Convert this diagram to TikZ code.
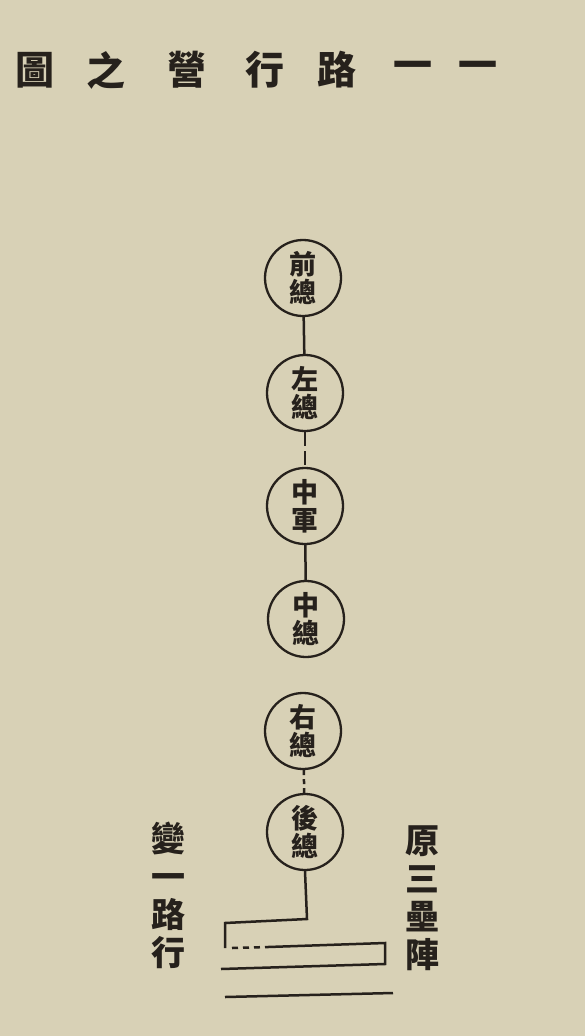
\documentclass[tikz,border=0pt]{standalone}
\usepackage{fontspec}
\newfontfamily\cjk{Noto Sans CJK TC}
\definecolor{paper}{RGB}{216,209,182}
\definecolor{ink}{RGB}{38,33,28}
\begin{document}
\begin{tikzpicture}[x=1pt,y=-1pt,
  zong/.style={draw=ink,line width=2.3pt,circle,minimum size=76pt,inner sep=0pt,
    align=center,text=ink,font=\cjk\bfseries\fontsize{27}{28}\selectfont},
  side/.style={align=center,text=ink,font=\cjk\bfseries\fontsize{34}{38}\selectfont},
  ti/.style={text=ink,font=\cjk\bfseries\fontsize{39}{39}\selectfont},
  ln/.style={draw=ink,line width=2.5pt}]
\fill[paper] (0,0) rectangle (585,1036);
% title, printed right to left
\foreach \c/\x [count=\i] in {圖/35,之/106,營/187,行/265,路/337,一/413,一/478}
  \node[ti] (t\i) at (\x,70) {\c};
% the column of corps
\node[zong] (qian) at (303,278) {前\\總};
\node[zong] (zuo) at (305,393) {左\\總};
\node[zong] (zhongjun) at (305,506) {中\\軍};
\node[zong] (zhongzong) at (306,619) {中\\總};
\node[zong] (you) at (303,731) {右\\總};
\node[zong] (hou) at (305,832) {後\\總};
\draw[ln] (qian) -- (zuo);
\draw[ln,dash pattern=on 14pt off 5pt] (zuo) -- (zhongjun);
\draw[ln] (zhongjun) -- (zhongzong);
\draw[ln,dash pattern=on 5pt off 4pt] (you) -- (hou);
% the three ramparts
\coordinate (b1) at (307,919);
\coordinate (b2) at (225,923);
\coordinate (b3) at (225,948);
\coordinate (b4) at (232,948);
\coordinate (b5) at (268,947);
\coordinate (b6) at (385,943);
\coordinate (b7) at (385,964);
\coordinate (b8) at (221,969);
\coordinate (b9) at (225,997);
\coordinate (b10) at (393,993);
\draw[ln] (hou.south) -- (b1) -- (b2) -- (b3);
\draw[ln,dash pattern=on 6pt off 5pt] (b4) -- (b5);
\draw[ln] (b5) -- (b6) -- (b7) -- (b8);
\draw[ln] (b9) -- (b10);
% side notes
\node[side] (bian) at (168,895) {變\\一\\路\\行};
\node[side] (yuan) at (422,898) {原\\三\\壘\\陣};
\end{tikzpicture}
\end{document}
